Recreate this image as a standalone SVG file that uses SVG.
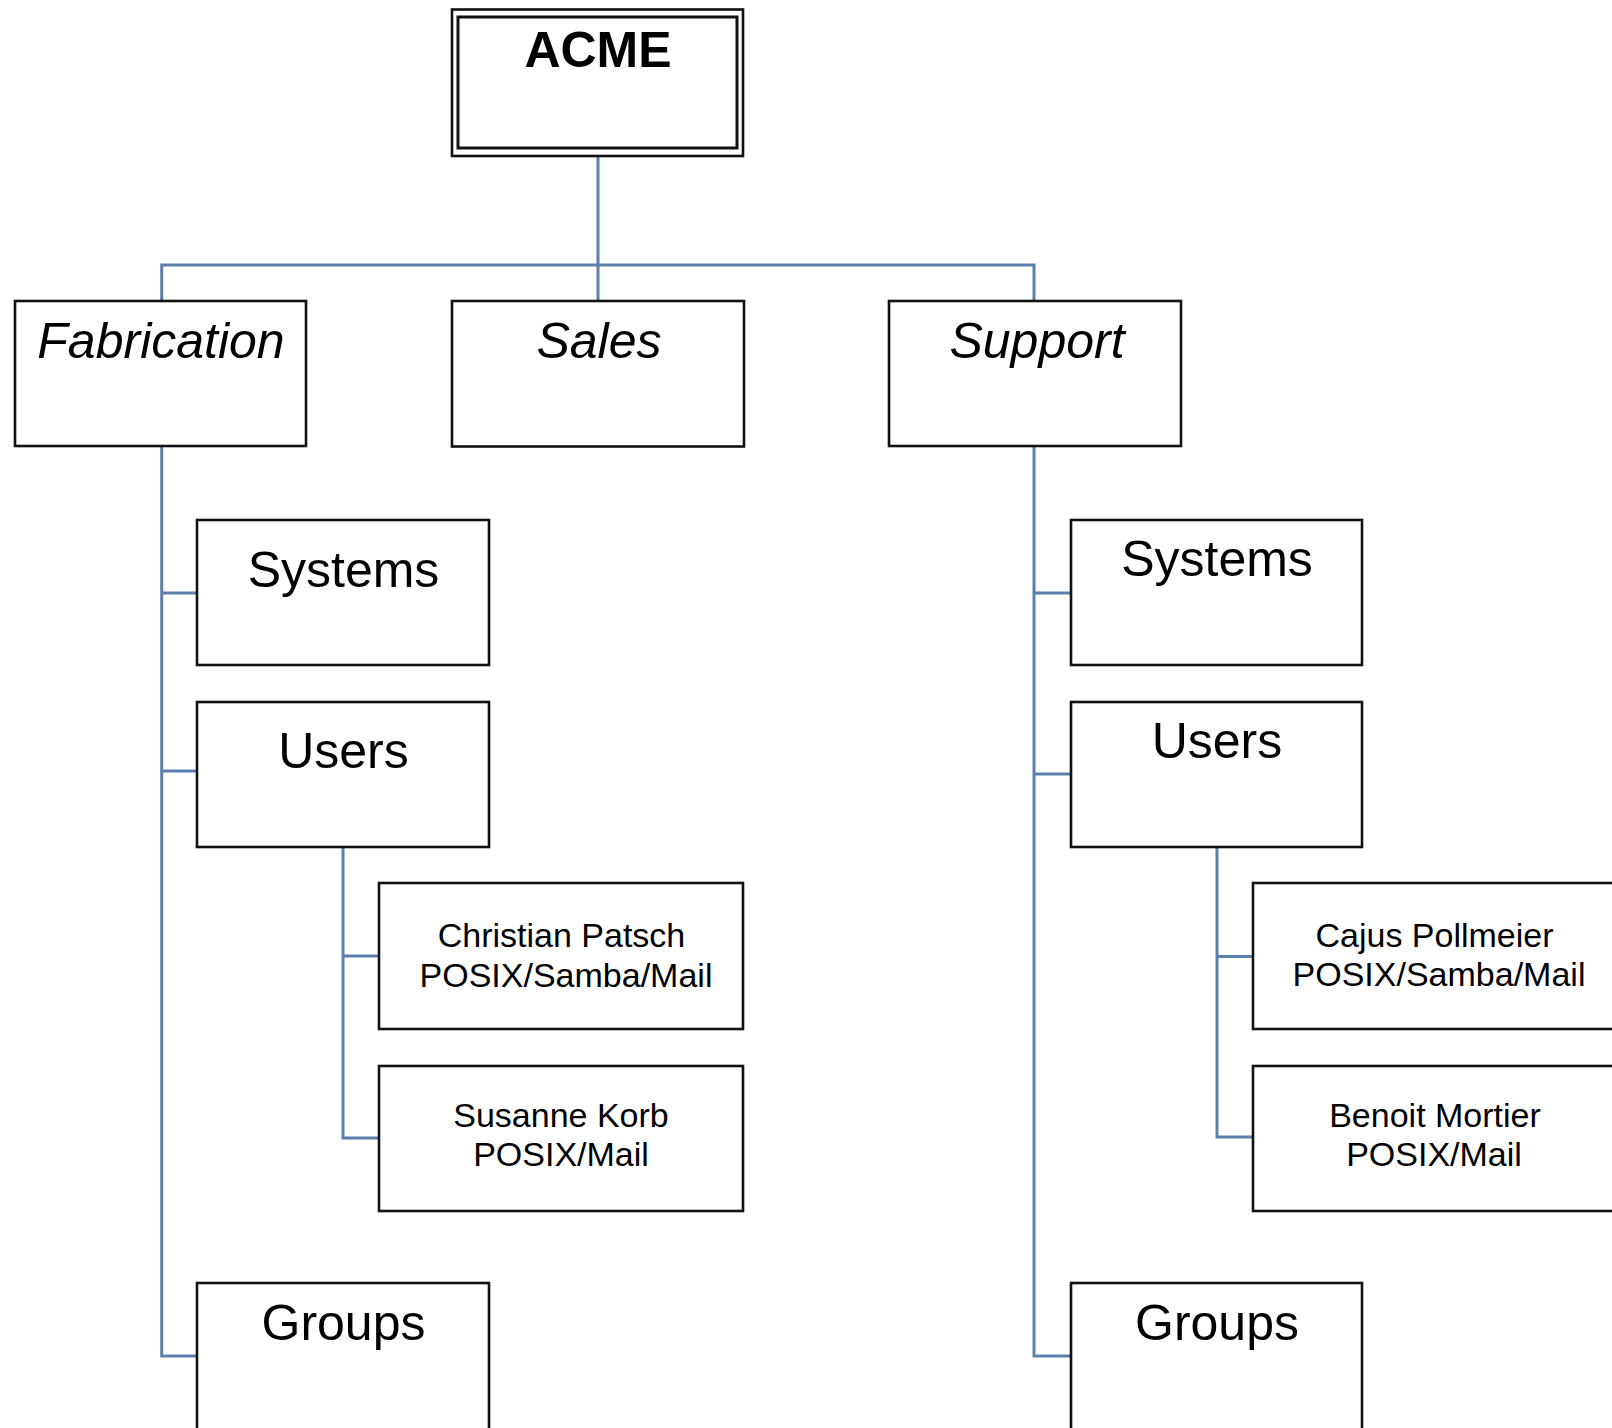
<svg xmlns="http://www.w3.org/2000/svg" width="1612" height="1428" viewBox="0 0 1612 1428">
<style>
.box{fill:#fff;stroke:#111;stroke-width:2.6}
.conn{fill:none;stroke:#5a80ab;stroke-width:3}
text{font-family:"Liberation Sans",Arial,sans-serif;fill:#000;text-anchor:middle}
.big{font-size:50px}
.it{font-style:italic}
.b{font-weight:bold}
.sm{font-size:34px}
</style>
<rect width="1612" height="1428" fill="#fff"/>
<g id="connectors">
<path class="conn" d="M598,156V301M161.7,301V265H1034V301"/>
<path class="conn" d="M161.7,446V1356H197M161.7,593H197M161.7,771H197"/>
<path class="conn" d="M343,847V1138H379M343,956H379"/>
<path class="conn" d="M1034,446V1356H1071M1034,593H1071M1034,774H1071"/>
<path class="conn" d="M1217,847V1137H1253M1217,956.5H1253"/>
</g>
<g id="acme">
<rect class="box" x="452" y="9.5" width="291" height="146.5"/>
<rect class="box" x="458" y="17" width="279" height="131" style="stroke-width:3"/>
<text class="big b" x="598" y="67">ACME</text>
</g>
<g id="fabrication">
<rect class="box" x="15" y="301" width="291" height="145"/>
<text class="big it" x="161" y="358">Fabrication</text>
</g>
<g id="sales">
<rect class="box" x="452" y="301" width="292" height="145.5"/>
<text class="big it" x="599" y="358">Sales</text>
</g>
<g id="support">
<rect class="box" x="889" y="301" width="292" height="145"/>
<text class="big it" x="1037" y="358">Support</text>
</g>
<g id="fab-systems">
<rect class="box" x="197" y="520" width="292" height="145"/>
<text class="big" x="343.5" y="587">Systems</text>
</g>
<g id="fab-users">
<rect class="box" x="197" y="702" width="292" height="145"/>
<text class="big" x="343.5" y="768">Users</text>
</g>
<g id="fab-groups">
<rect class="box" x="197" y="1283" width="292" height="160"/>
<text class="big" x="343.5" y="1340">Groups</text>
</g>
<g id="christian">
<rect class="box" x="379" y="883" width="364" height="146"/>
<text class="sm" x="561.5" y="947">Christian Patsch</text>
<text class="sm" x="566" y="987">POSIX/Samba/Mail</text>
</g>
<g id="susanne">
<rect class="box" x="379" y="1066" width="364" height="145"/>
<text class="sm" x="561" y="1127">Susanne Korb</text>
<text class="sm" x="561" y="1166">POSIX/Mail</text>
</g>
<g id="sup-systems">
<rect class="box" x="1071" y="520" width="291" height="145"/>
<text class="big" x="1217" y="576">Systems</text>
</g>
<g id="sup-users">
<rect class="box" x="1071" y="702" width="291" height="145"/>
<text class="big" x="1217" y="758">Users</text>
</g>
<g id="sup-groups">
<rect class="box" x="1071" y="1283" width="291" height="160"/>
<text class="big" x="1217" y="1340">Groups</text>
</g>
<g id="cajus">
<rect class="box" x="1253" y="883" width="364" height="146"/>
<text class="sm" x="1434.5" y="947">Cajus Pollmeier</text>
<text class="sm" x="1439" y="986">POSIX/Samba/Mail</text>
</g>
<g id="benoit">
<rect class="box" x="1253" y="1066" width="364" height="145"/>
<text class="sm" x="1435" y="1127">Benoit Mortier</text>
<text class="sm" x="1434" y="1166">POSIX/Mail</text>
</g>
</svg>
